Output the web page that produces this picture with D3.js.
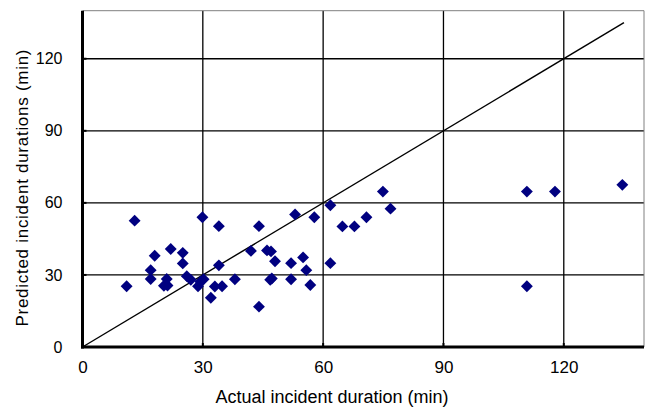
<!DOCTYPE html>
<html lang="en">
<head>
<meta charset="UTF-8">
<title>Predicted vs actual incident duration</title>
<script src="https://d3js.org/d3.v7.min.js"></script>
<style>
    body { margin: 0; background: #fff; }
    svg text { font-family: 'Liberation Sans', Arial, sans-serif; fill: #000; }
</style>
</head>
<body>
<div id="chart"></div>
<script>
    // actual duration (min)
    const actual = [11, 13, 17, 17, 18, 20.3, 21.2, 21, 22, 25, 25, 26, 27, 28.8, 29.4, 30.2,
        29.9, 32, 33, 34.8, 34, 34, 38, 42, 44, 44, 46, 47, 46.8, 47.2, 48, 52, 52, 53,
        55, 55.8, 56.8, 57.8, 61.8, 61.8, 64.8, 67.8, 70.8, 74.9, 76.8, 110.8, 117.8, 134.6, 110.8];
    // predicted duration (min)
    const predicted = [25.3, 52.6, 32, 28.3, 38, 25.5, 25.6, 28.3, 40.8, 39.2, 34.8, 29.5, 28, 25.3, 27.2, 28.2,
        54, 20.5, 25.2, 25.3, 50.3, 34, 28.2, 40, 50.3, 16.8, 40.2, 39.8, 28, 28.5, 35.7, 34.9, 28.2, 55.2,
        37.3, 32, 25.8, 54, 59, 34.9, 50.2, 50.2, 54, 64.7, 57.6, 64.7, 64.7, 67.5, 25.3];
    const ticks = [0, 30, 60, 90, 120];
    const refLine = [0, 135];

    const width = 645, height = 412;
    const x = d3.scaleLinear().domain([0, 140]).range([82.5, 644]);
    const y = d3.scaleLinear().domain([0, 140]).range([347, 10.7]);

    const svg = d3.select('#chart').append('svg')
        .attr('width', width)
        .attr('height', height);

    // grid
    svg.append('g').selectAll('line.v')
        .data(ticks.slice(1))
        .join('line')
        .attr('x1', d => x(d)).attr('x2', d => x(d))
        .attr('y1', y(0)).attr('y2', y(140))
        .attr('stroke', '#000').attr('stroke-width', 1.3);
    svg.append('g').selectAll('line.h')
        .data(ticks.slice(1))
        .join('line')
        .attr('x1', x(0)).attr('x2', x(140))
        .attr('y1', d => y(d)).attr('y2', d => y(d))
        .attr('stroke', '#000').attr('stroke-width', 1.3);

    // top / right border
    svg.append('path')
        .attr('d', `M${x(0)},${y(140)}H${x(140)}V${y(0)}`)
        .attr('fill', 'none')
        .attr('stroke', '#808080')
        .attr('stroke-width', 1);

    // y = x reference
    svg.append('line')
        .attr('x1', x(refLine[0])).attr('y1', y(refLine[0]))
        .attr('x2', x(refLine[1])).attr('y2', y(refLine[1]))
        .attr('stroke', '#000').attr('stroke-width', 1.4);

    // points
    const pts = actual.map((a, i) => [a, predicted[i]]);
    svg.append('g').selectAll('path')
        .data(pts)
        .join('path')
        .attr('d', d3.symbol().type(d3.symbolDiamond2).size(90))
        .attr('transform', d => `translate(${x(d[0])},${y(d[1])})`)
        .attr('fill', '#000080');

    // axes
    const xAxis = svg.append('g')
        .attr('transform', `translate(0,${y(0)})`)
        .call(d3.axisBottom(x).tickValues(ticks).tickSize(0).tickPadding(14));
    xAxis.select('.domain').attr('stroke', '#000').attr('stroke-width', 3).attr('d', `M${x(0) - 1.5},0H${x(140)}`);
    xAxis.selectAll('text').style('font-size', '17px');
    xAxis.selectAll('.tk').data(ticks.slice(1)).join('line')
        .attr('x1', d => x(d)).attr('x2', d => x(d))
        .attr('y1', 0).attr('y2', -4)
        .attr('stroke', '#000').attr('stroke-width', 2);

    const yAxis = svg.append('g')
        .attr('transform', `translate(${x(0)},0)`)
        .call(d3.axisLeft(y).tickValues(ticks).tickSize(0).tickPadding(20));
    yAxis.select('.domain').attr('stroke', '#000').attr('stroke-width', 3).attr('d', `M0,${y(0) + 1.5}V${y(140)}`);
    yAxis.selectAll('text').style('font-size', '16px');
    yAxis.selectAll('.tk').data(ticks.slice(1)).join('line')
        .attr('x1', 0).attr('x2', 4)
        .attr('y1', d => y(d)).attr('y2', d => y(d))
        .attr('stroke', '#000').attr('stroke-width', 2);

    // titles
    svg.append('text')
        .attr('x', 332)
        .attr('y', 403)
        .attr('text-anchor', 'middle')
        .style('font-size', '18px')
        .text('Actual incident duration (min)');

    svg.append('text')
        .attr('transform', 'translate(28,188) rotate(-90)')
        .attr('text-anchor', 'middle')
        .style('font-size', '17px')
        .attr('textLength', 277)
        .text('Predicted incident durations (min)');
</script>
</body>
</html>
